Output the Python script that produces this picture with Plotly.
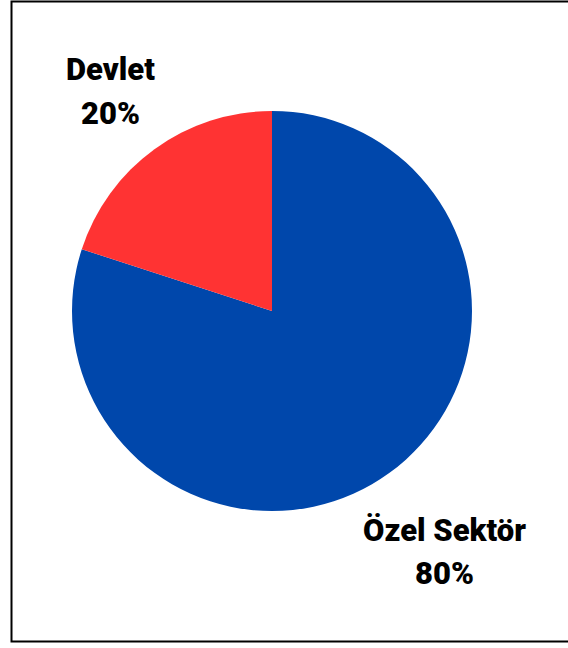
import plotly.graph_objects as go

labels = ["Özel Sektör", "Devlet"]
values = [80, 20]
colors = ["#0047AB", "#FF3333"]

W, H = 568, 648
total = sum(values)

fig = go.Figure(go.Pie(
    labels=labels,
    values=values,
    sort=False,
    direction="clockwise",
    rotation=0,
    marker=dict(colors=colors, line=dict(width=0)),
    textinfo="none",
    hoverinfo="label+percent",
    showlegend=False,
    domain=dict(x=[71 / W, 473 / W], y=[1 - 511 / H, 1 - 111 / H]),
))

# (x center, y of name line, y of percent line) in pixels
label_pos = {"Devlet": (110, 69, 113), "Özel Sektör": (444, 530, 573)}
font = dict(family="Roboto, Liberation Sans, sans-serif", size=31, color="black", weight=900)
for lab, val in zip(labels, values):
    px, py1, py2 = label_pos[lab]
    for txt, py in ((lab, py1), (f"{val / total * 100:.0f}%", py2)):
        fig.add_annotation(
            x=px / W, y=1 - py / H, xref="paper", yref="paper",
            text=txt, showarrow=False, font=font, align="center",
            xanchor="center", yanchor="middle",
        )

fig.add_shape(type="rect", xref="paper", yref="paper",
              x0=11.5 / W, x1=1.05, y0=1 - 641.5 / H, y1=1 - 1.5 / H,
              line=dict(color="black", width=2), fillcolor="rgba(0,0,0,0)")

fig.update_layout(
    width=W, height=H,
    margin=dict(l=0, r=0, t=0, b=0),
    paper_bgcolor="white", plot_bgcolor="white",
)

fig.write_html("out.html", config={"displayModeBar": False},
               post_script="document.body.style.margin='0';")
